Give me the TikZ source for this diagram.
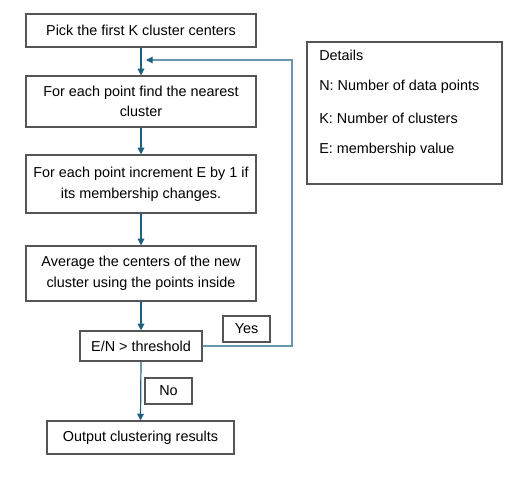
\documentclass[tikz,border=0pt]{standalone}
\usepackage{fontspec}
\setmainfont{Liberation Sans}
\usetikzlibrary{arrows.meta}
\definecolor{arr}{HTML}{1F5F80}
\definecolor{loopc}{HTML}{6A96B0}
\definecolor{bord}{HTML}{555555}
\tikzset{
  box/.style={draw=bord, line width=0.9pt, align=center, inner sep=0pt, font=\fontsize{10.8}{15.5}\selectfont},
  flow/.style={draw=arr, line width=0.9pt, -{Triangle[length=5pt,width=5pt,color=arr]}},
  loopline/.style={draw=loopc, line width=0.8pt, -{Triangle[length=5pt,width=5pt,color=arr]}},
  dtext/.style={anchor=west, inner sep=0pt, font=\fontsize{10.8}{12}\selectfont}
}
\begin{document}
\begin{tikzpicture}[x=0.75pt,y=-0.75pt]
\useasboundingbox (0,0) rectangle (527,476);
\node[box, minimum width=230*0.75pt, minimum height=33*0.75pt] (b1) at (141,30.5) {Pick the first K cluster centers};
\node[box, minimum width=230*0.75pt, minimum height=51*0.75pt] (b2) at (141,101.5) {For each point find the nearest\\cluster};
\node[box, minimum width=230*0.75pt, minimum height=58*0.75pt] (b3) at (141,184) {For each point increment E by 1 if\\its membership changes.};
\node[box, minimum width=230*0.75pt, minimum height=55*0.75pt] (b4) at (141,273.5) {Average the centers of the new\\cluster using the points inside};
\node[box, minimum width=122*0.75pt, minimum height=30*0.75pt] (b5) at (141,346) {E/N > threshold};
\node[box, minimum width=47*0.75pt, minimum height=26*0.75pt] (yes) at (246.5,329) {Yes};
\node[box, minimum width=47*0.75pt, minimum height=26*0.75pt] (no) at (168.5,391) {No};
\node[box, minimum width=187*0.75pt, minimum height=33*0.75pt] (b6) at (140.5,437.5) {Output clustering results};
\node[box, minimum width=195*0.75pt, minimum height=142*0.75pt] (det) at (404.5,113) {};
\node[dtext] (d1) at (319,55) {Details};
\node[dtext] (d2) at (319,87) {N: Number of data points};
\node[dtext] (d3) at (319,118) {K: Number of clusters};
\node[dtext] (d4) at (319,150) {E: membership value};
\coordinate (lc) at (292,346);
\coordinate (lt) at (146,60);
\draw[flow] (b1.south) -- (b2.north);
\draw[flow] (b2.south) -- (b3.north);
\draw[flow] (b3.south) -- (b4.north);
\draw[flow] (b4.south) -- (b5.north);
\draw[flow] (b5.south) -- (b6.north);
\draw[loopline] (b5.east) -- (lc) |- (lt);
\end{tikzpicture}
\end{document}
